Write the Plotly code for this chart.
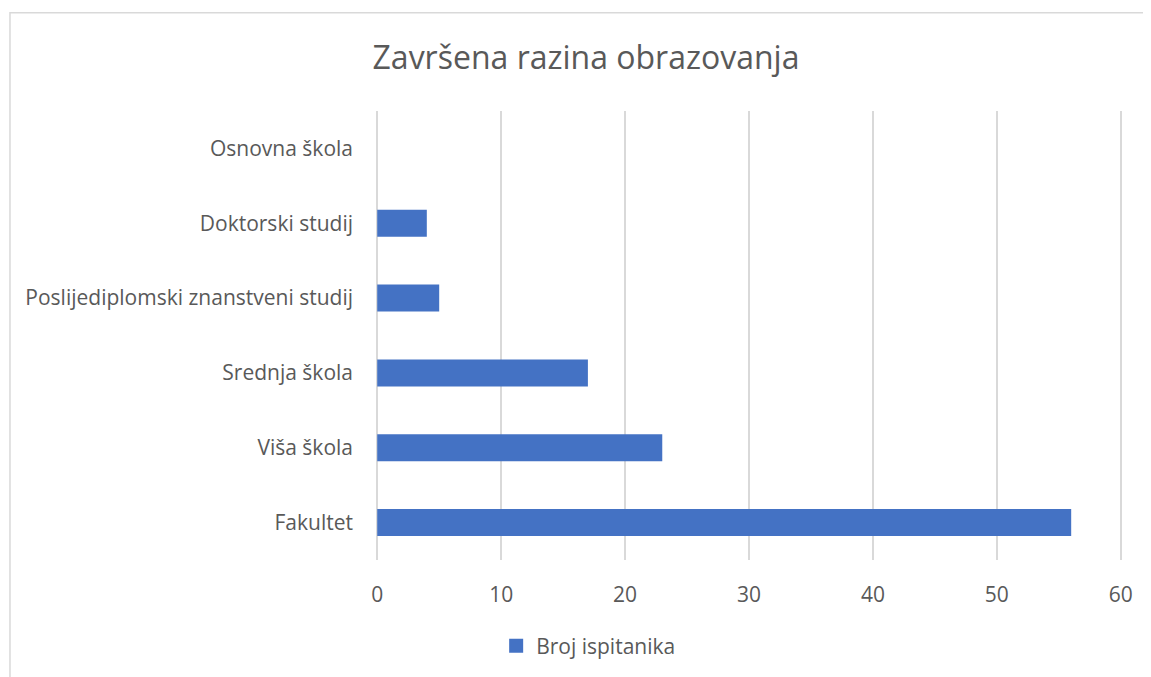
import plotly.graph_objects as go

categories = ["Fakultet", "Viša škola", "Srednja škola",
              "Poslijediplomski znanstveni studij", "Doktorski studij", "Osnovna škola"]
values = [56, 23, 17, 5, 4, 0]
series_name = "Broj ispitanika"
title_text = "Završena razina obrazovanja"
x_ticks = [0, 10, 20, 30, 40, 50, 60]

OFF = 8  # page body margin
W, H = 1151 - OFF, 677 - OFF
PAD = 0.1  # keep edge gridlines visible
# targets in page pixels (value 0 -> 377, value 60 -> 1121)
scale = (1121 - 377) / 60.0
PL, PR, PT, PB = 377 - PAD * scale, 1121 + PAD * scale, 111, 561
L, T = PL - OFF, PT - OFF
R = W - (PR - OFF)
B = H - (PB - OFF)
pw, ph = W - L - R, H - T - B

def px(x):
    return (x - OFF - L) / pw

def py(y):
    return (H - B - (y - OFF)) / ph

font = "Open Sans, Segoe UI, sans-serif"
fig = go.Figure()
fig.add_trace(go.Bar(
    y=categories, x=values, orientation="h", name=series_name,
    marker=dict(color="#4472C4", line=dict(width=0)), width=0.36,
    showlegend=False,
))
# legend proxy with a larger square swatch
fig.add_trace(go.Scatter(
    x=[None], y=[None], mode="markers", name=series_name,
    marker=dict(symbol="square", size=14, color="#4472C4"), showlegend=True,
))

fig.update_layout(
    width=W, height=H,
    margin=dict(l=L, r=R, t=T, b=B),
    paper_bgcolor="white", plot_bgcolor="white",
    title=dict(text=title_text, x=(586 - OFF) / W, xanchor="center", y=1 - (58 - OFF) / H, yanchor="middle",
               xref="container", yref="container",
               font=dict(family=font, size=32, color="#595959")),
    xaxis=dict(range=[-PAD, 60 + PAD], tickvals=x_ticks, showgrid=True, gridcolor="#D9D9D9", gridwidth=1.5,
               zeroline=False, showline=False,
               ticklabelstandoff=20,
               tickfont=dict(family=font, size=21, color="#595959"), fixedrange=True),
    yaxis=dict(showgrid=False, zeroline=False, showline=False, ticklabelstandoff=22,
               tickfont=dict(family=font, size=21, color="#595959"), fixedrange=True),
    legend=dict(orientation="h", x=px(496), xanchor="left", y=py(646), yanchor="middle",
                font=dict(family=font, size=21, color="#595959"), itemwidth=30),
    shapes=[dict(type="rect", xref="paper", yref="paper",
                 x0=px(9.5), x1=px(1170), y0=py(700), y1=py(12.5),
                 line=dict(color="#D9D9D9", width=1.5), fillcolor="rgba(0,0,0,0)", layer="below")],
)
fig.write_html("out.html")
